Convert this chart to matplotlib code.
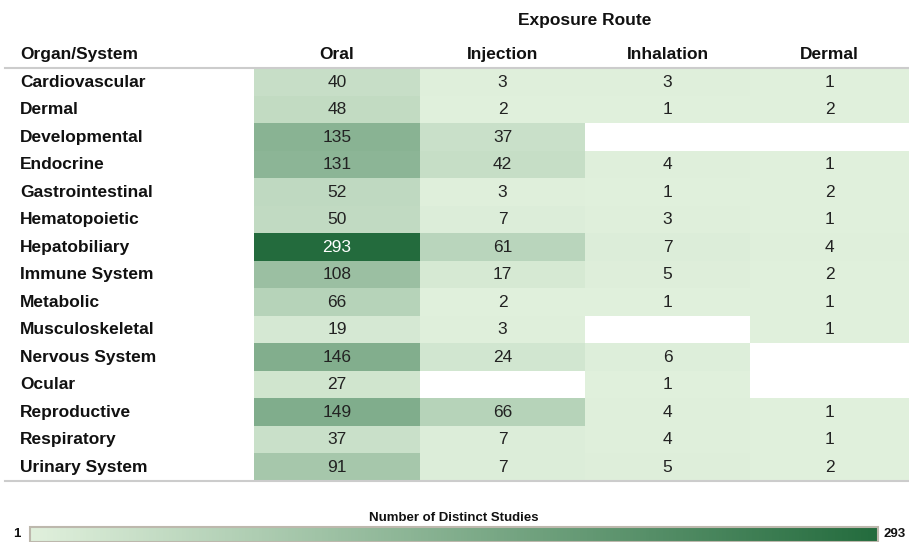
import numpy as np
import matplotlib.pyplot as plt
from matplotlib.colors import LinearSegmentedColormap, Normalize
from matplotlib.colorbar import ColorbarBase

plt.rcParams['font.family'] = ['Liberation Sans', 'DejaVu Sans']

# data
organs = ['Cardiovascular', 'Dermal', 'Developmental', 'Endocrine', 'Gastrointestinal',
          'Hematopoietic', 'Hepatobiliary', 'Immune System', 'Metabolic', 'Musculoskeletal',
          'Nervous System', 'Ocular', 'Reproductive', 'Respiratory', 'Urinary System']
routes = ['Oral', 'Injection', 'Inhalation', 'Dermal']
oral = [40, 48, 135, 131, 52, 50, 293, 108, 66, 19, 146, 27, 149, 37, 91]
injection = [3, 2, 37, 42, 3, 7, 61, 17, 2, 3, 24, None, 66, 7, 7]
inhalation = [3, 1, None, 4, 1, 3, 7, 5, 1, None, 6, 1, 4, 4, 5]
dermal = [1, 2, None, 1, 2, 1, 4, 2, 1, 1, None, None, 1, 1, 2]
vmin, vmax = 1, 293

vals = np.array([oral, injection, inhalation, dermal], dtype=float).T
mask = np.isnan(vals)
data = np.ma.masked_array(np.nan_to_num(vals), mask=mask)

cmap = LinearSegmentedColormap.from_list('grn', ['#e0f0dc', '#236b3d'])
norm = Normalize(vmin, vmax)

W, H = 909, 542
fig = plt.figure(figsize=(W / 100, H / 100), dpi=100)
ax = fig.add_axes([0, 0, 1, 1])
ax.set_xlim(0, W)
ax.set_ylim(H, 0)
ax.axis('off')

# layout (pixels)
col_edges = np.array([254, 420, 585, 750, 909])
top, row_h = 68, 27.5
row_edges = top + row_h * np.arange(len(organs) + 1)
fs = 12.5

ax.pcolormesh(col_edges, row_edges, data, cmap=cmap, norm=norm)

col_c = (col_edges[:-1] + col_edges[1:]) / 2
row_c = (row_edges[:-1] + row_edges[1:]) / 2
for i, org in enumerate(organs):
    ax.text(20, row_c[i] + 5, org, fontsize=fs, fontweight='bold', va='baseline', ha='left', color='#111111')
    for j in range(len(routes)):
        if mask[i, j]:
            continue
        v = int(vals[i, j])
        c = 'white' if norm(v) > 0.7 else '#222222'
        ax.text(col_c[j], row_c[i] + 5, str(v), fontsize=fs, ha='center', va='baseline', color=c)

# headers
ax.text(20, 59, 'Organ/System', fontsize=fs, fontweight='bold', va='baseline', ha='left', color='#111111')
for j, r in enumerate(routes):
    ax.text(col_c[j], 59, r, fontsize=fs, fontweight='bold', va='baseline', ha='center', color='#111111')
ax.text(585, 25, 'Exposure Route', fontsize=fs, fontweight='bold', va='baseline', ha='center', color='#111111')
ax.plot([5, W], [top, top], color='#cccccc', lw=1.5)
ax.plot([5, W], [row_edges[-1], row_edges[-1]], color='#cccccc', lw=1.5)

# colorbar
cax = fig.add_axes([30 / W, 1 - 542 / H, (878 - 30) / W, 15 / H])
cb = ColorbarBase(cax, cmap=cmap, norm=norm, orientation='horizontal')
cb.set_ticks([])
cb.outline.set_edgecolor('#bdb8ad')
cb.outline.set_linewidth(1.5)
ax.text(454, 521, 'Number of Distinct Studies', fontsize=9.5, fontweight='bold',
        ha='center', va='baseline', color='#111111')
ax.text(20, 537, str(vmin), fontsize=9.5, fontweight='bold', ha='right', va='baseline', color='#111111')
ax.text(884, 537, str(vmax), fontsize=9.5, fontweight='bold', ha='left', va='baseline', color='#111111')

plt.savefig('out.png', dpi=100)
